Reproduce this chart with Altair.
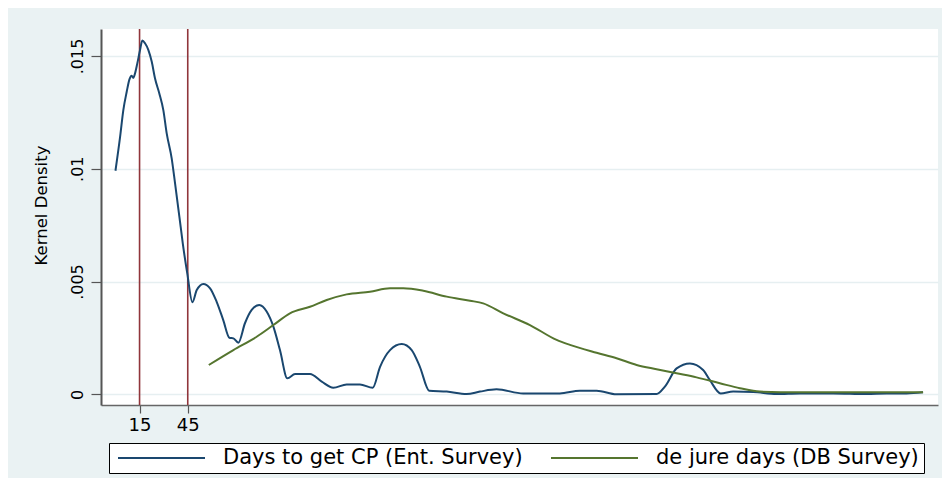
import altair as alt
import pandas as pd

# ---- data ----
series_names = ["Days to get CP (Ent. Survey)", "de jure days (DB Survey)"]
series_colors = ["#1A476F", "#55752F"]

cp_days = [0, 2.9, 4.9, 7.0, 8.7, 10.1, 11.1, 12.2, 13.6, 15.3,
           16.7, 18.4, 20.5, 22.6, 24.6, 27.3, 29.8, 31.9, 35.0, 37.1,
           39.8, 41.9, 44.7, 47.9, 50.6, 54.7, 58.9, 63.0, 67.1, 70.9,
           73.4, 76.5, 80.6, 84.8, 89.5, 94.2, 98.3, 102.4, 107.0, 111.8,
           121.1, 128.4, 135.6, 143.9, 152.2, 160.1, 164.7, 170.9, 178.2, 184.4,
           189.5, 195.3, 206.2, 218.6, 226.9, 237.2, 253.8, 276.6, 289.1, 299.5,
           311.9, 336.8, 342.0, 349.3, 357.6, 365.8, 370.0, 376.7, 384.5, 397.0,
           411.5, 426.0, 446.7, 467.5, 480.0, 492.4, 502.7]
cp_density = [0.00991, 0.01142, 0.01260, 0.01341, 0.01396, 0.01412, 0.01403, 0.01423, 0.01467, 0.01526,
              0.01568, 0.01556, 0.01526, 0.01474, 0.01401, 0.01334, 0.01260, 0.01157, 0.01046, 0.00935,
              0.00787, 0.00669, 0.00536, 0.00408, 0.00462, 0.00489, 0.00470, 0.00410, 0.00329, 0.00251,
              0.00248, 0.00229, 0.00315, 0.00374, 0.00396, 0.00366, 0.00300, 0.00196, 0.00071, 0.00090,
              0.00090, 0.00056, 0.00029, 0.00044, 0.00044, 0.00029, 0.00122, 0.00196, 0.00223, 0.00196,
              0.00122, 0.00016, 0.00012, 0.00001, 0.00012, 0.00022, 0.00004, 0.00004, 0.00016, 0.00016,
              0.00000, 0.00001, 0.00034, 0.00115, 0.00137, 0.00108, 0.00063, 0.00004, 0.00012, 0.00010,
              0.00001, 0.00004, 0.00004, 0.00001, 0.00004, 0.00004, 0.00009]

dj_days = [58.1, 73.4, 87.9, 98.3, 108.6, 121.1, 131.5, 143.9, 158.4, 170.9,
           179.2, 191.6, 206.2, 220.7, 228.9, 241.4, 258.0, 274.6, 282.9, 299.5,
           311.9, 324.4, 336.8, 349.3, 361.7, 376.2, 388.7, 401.1, 426.0, 446.7,
           467.5, 502.7]
dj_density = [0.00130, 0.00196, 0.00255, 0.00307, 0.00359, 0.00388, 0.00418, 0.00443, 0.00455, 0.00470,
              0.00470, 0.00459, 0.00433, 0.00415, 0.00403, 0.00359, 0.00307, 0.00241, 0.00219, 0.00184,
              0.00160, 0.00130, 0.00111, 0.00093, 0.00075, 0.00049, 0.00027, 0.00012, 0.00009, 0.00009,
              0.00009, 0.00009]

marker_days = [15, 45]

x_ticks = [15, 45]
x_tick_labels = ["15", "45"]
y_ticks = [0, 0.005, 0.01, 0.015]
y_tick_labels = ["0", ".005", ".01", ".015"]

# ---- build tables ----
df = pd.concat([
    pd.DataFrame({"days": cp_days, "density": cp_density, "series": series_names[0]}),
    pd.DataFrame({"days": dj_days, "density": dj_density, "series": series_names[1]}),
], ignore_index=True)
markers = pd.DataFrame({"days": marker_days})


def label_expr(values, labels):
    expr = "''"
    for v, l in zip(reversed(values), reversed(labels)):
        expr = f"abs(datum.value - {v}) < 1e-9 ? '{l}' : ({expr})"
    return expr


FONT = "DejaVu Sans"

x_scale = alt.Scale(domain=[-9, 512], nice=False, zero=False)
y_scale = alt.Scale(domain=[-0.000474, 0.016194], nice=False, zero=False)

x_axis = alt.Axis(
    values=x_ticks, labelExpr=label_expr(x_ticks, x_tick_labels), title=None,
    grid=False, tickSize=8, tickColor="#555555", tickWidth=1.2,
    domainColor="#666666", domainWidth=1.5,
    labelFont=FONT, labelFontSize=18, labelColor="black", labelPadding=3,
)
y_axis = alt.Axis(
    values=y_ticks, labelExpr=label_expr(y_ticks, y_tick_labels),
    title="Kernel Density", titleFont=FONT, titleFontSize=16.5, titleFontWeight="normal",
    titleColor="black", titleAngle=270, titleAlign="center", titleBaseline="middle",
    titleX=-60, titleY=176,
    grid=True, gridColor="#E6EFF1", gridWidth=1.5,
    tickSize=10, tickColor="#555555", tickWidth=1.2,
    domainColor="#555555", domainWidth=2,
    labelFont=FONT, labelFontSize=16, labelColor="black", labelAngle=270,
    labelAlign="center", labelBaseline="bottom", labelPadding=6,
)

lines = alt.Chart(df).mark_line(strokeWidth=2, interpolate="monotone").encode(
    x=alt.X("days:Q", scale=x_scale, axis=x_axis),
    y=alt.Y("density:Q", scale=y_scale, axis=y_axis),
    color=alt.Color(
        "series:N",
        scale=alt.Scale(domain=series_names, range=series_colors),
        legend=alt.Legend(
            orient="none", legendX=8, legendY=414, direction="horizontal", columns=2,
            title=None, symbolType="stroke", symbolSize=7569, symbolStrokeWidth=2,
            symbolOffset=3, clipHeight=20, labelOffset=17, columnPadding=24,
            labelFont=FONT, labelFontSize=21, labelColor="black", labelLimit=500,
            padding=5, strokeColor="black", fillColor="white",
        ),
    ),
    order=alt.Order("days:Q"),
)

rules = alt.Chart(markers).mark_rule(color="#90353B", strokeWidth=1.6).encode(
    x=alt.X("days:Q", scale=x_scale),
)

chart = alt.layer(rules, lines).properties(
    width=837,
    height=376,
    background="#EAF2F3",
    autosize=alt.AutoSizeParams(type="none"),
    padding={"left": 93, "top": 21, "right": 4, "bottom": 73},
).configure_view(
    fill="white", strokeWidth=0,
)

chart.save("out.html", embed_options={"renderer": "svg", "actions": False})
